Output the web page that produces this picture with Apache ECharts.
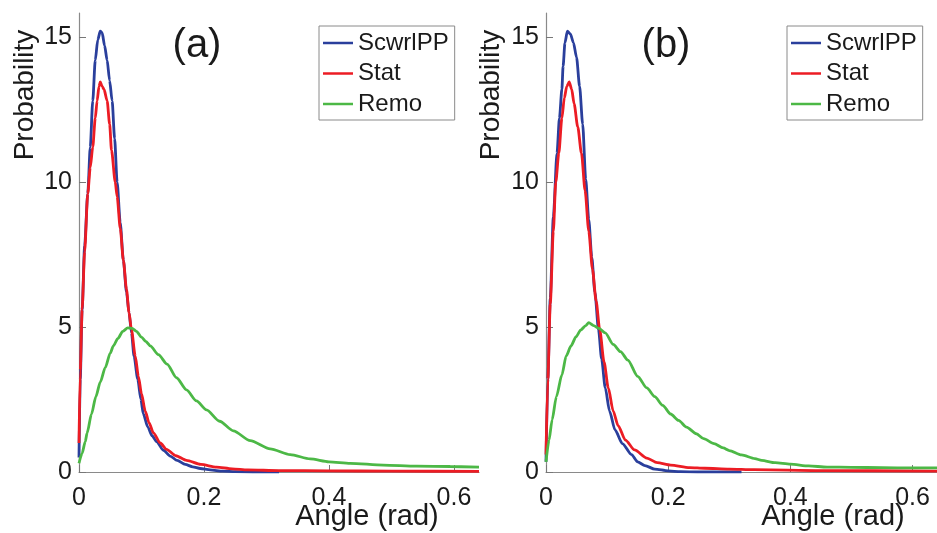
<!DOCTYPE html>
<html>
<head>
<meta charset="utf-8">
<script src="https://cdn.jsdelivr.net/npm/echarts@6/dist/echarts.min.js"></script>
<style>
  html, body { margin: 0; padding: 0; background: #fff; }
  #chart { width: 937px; height: 533px; }
</style>
</head>
<body>
<div id="chart"></div>
<script>
// Angle distributions: [angle (rad), probability density]
const seriesNames = ['ScwrlPP', 'Stat', 'Remo'];
const panelLabels = ['(a)', '(b)'];
const xTicks = [0, 0.2, 0.4, 0.6];
const yTicks = [0, 5, 10, 15];

// panel (a)
const scwrlA = [[0,0.5],[0.002,3.2],[0.005,5.6],[0.009,7.8],[0.014,9.6],[0.018,11.2],[0.022,12.8],[0.026,14.2],[0.030,14.9],[0.034,15.2],[0.037,15.15],[0.041,14.7],[0.045,14.2],[0.049,13.5],[0.053,12.8],[0.057,11.5],[0.061,10.0],[0.066,8.6],[0.071,7.3],[0.076,6.2],[0.080,5.5],[0.084,4.8],[0.088,4.0],[0.094,3.2],[0.099,2.5],[0.103,2.0],[0.110,1.55],[0.117,1.25],[0.124,1.05],[0.135,0.75],[0.146,0.55],[0.157,0.4],[0.170,0.26],[0.182,0.18],[0.194,0.12],[0.21,0.07],[0.23,0.03],[0.25,0.01],[0.28,0.0],[0.32,0.0]];
const statA = [[0,1.0],[0.002,3.5],[0.005,5.6],[0.009,7.6],[0.014,9.6],[0.018,10.5],[0.022,11.2],[0.026,12.2],[0.029,12.8],[0.032,13.3],[0.034,13.45],[0.037,13.3],[0.040,13.2],[0.045,12.8],[0.049,12.0],[0.052,11.1],[0.058,10.0],[0.061,9.5],[0.066,8.4],[0.071,7.3],[0.076,6.3],[0.080,5.5],[0.084,4.9],[0.090,4.0],[0.095,3.3],[0.100,2.7],[0.106,2.1],[0.112,1.7],[0.119,1.35],[0.13,1.0],[0.14,0.78],[0.155,0.56],[0.172,0.4],[0.195,0.26],[0.22,0.17],[0.245,0.11],[0.27,0.07],[0.32,0.05],[0.40,0.04],[0.50,0.03],[0.64,0.02]];
const remoA = [[0,0.3],[0.005,0.65],[0.01,1.05],[0.013,1.35],[0.02,2.0],[0.027,2.6],[0.034,3.1],[0.042,3.6],[0.05,4.1],[0.055,4.35],[0.062,4.6],[0.07,4.85],[0.078,4.97],[0.085,4.95],[0.092,4.85],[0.1,4.65],[0.107,4.5],[0.114,4.35],[0.127,4.05],[0.141,3.72],[0.156,3.25],[0.172,2.83],[0.188,2.45],[0.204,2.14],[0.225,1.75],[0.247,1.42],[0.274,1.08],[0.306,0.8],[0.338,0.6],[0.37,0.45],[0.4,0.35],[0.434,0.3],[0.487,0.24],[0.54,0.2],[0.594,0.19],[0.64,0.17]];

// panel (b)
const scwrlB = [[0,0.35],[0.003,3.2],[0.007,6.0],[0.012,8.8],[0.018,11.0],[0.022,12.2],[0.026,13.2],[0.028,14.0],[0.031,14.8],[0.035,15.2],[0.040,15.1],[0.045,14.8],[0.050,14.3],[0.055,13.3],[0.060,12.0],[0.065,10.1],[0.070,8.7],[0.075,7.4],[0.080,6.2],[0.086,4.9],[0.091,3.9],[0.097,2.9],[0.104,2.1],[0.113,1.45],[0.125,0.98],[0.14,0.6],[0.15,0.35],[0.162,0.22],[0.178,0.1],[0.2,0.04],[0.22,0.01],[0.25,0.0],[0.32,0.0]];
const statB = [[0,0.6],[0.003,3.2],[0.007,5.8],[0.012,8.3],[0.016,10.0],[0.021,11.0],[0.026,12.2],[0.030,12.9],[0.034,13.3],[0.038,13.45],[0.042,13.2],[0.046,12.7],[0.052,11.9],[0.058,11.0],[0.064,9.7],[0.070,8.3],[0.076,7.0],[0.082,5.9],[0.088,4.9],[0.095,3.8],[0.102,2.9],[0.110,2.1],[0.118,1.6],[0.130,1.1],[0.145,0.76],[0.165,0.48],[0.182,0.32],[0.204,0.24],[0.235,0.15],[0.26,0.13],[0.3,0.1],[0.34,0.08],[0.45,0.05],[0.64,0.03]];
const remoB = [[0,0.35],[0.005,1.1],[0.01,1.8],[0.017,2.6],[0.026,3.35],[0.033,4.0],[0.041,4.35],[0.049,4.66],[0.057,4.9],[0.065,5.05],[0.070,5.15],[0.078,5.05],[0.087,4.95],[0.097,4.8],[0.11,4.4],[0.122,4.15],[0.134,3.86],[0.15,3.3],[0.165,2.9],[0.178,2.6],[0.191,2.3],[0.204,2.0],[0.217,1.78],[0.23,1.55],[0.246,1.32],[0.258,1.15],[0.275,0.98],[0.29,0.83],[0.30,0.74],[0.32,0.59],[0.342,0.46],[0.353,0.4],[0.375,0.32],[0.4,0.27],[0.43,0.21],[0.46,0.17],[0.5,0.16],[0.55,0.15],[0.6,0.14],[0.64,0.14]];

const colors = ['#2a3f9c', '#ec1c24', '#4cb846'];
const FONT = "'Liberation Sans', Arial, sans-serif";
const TEXT = '#1a1a1a';

const panels = [
  { left: 79, data: [scwrlA, statA, remoA] },
  { left: 546, data: [scwrlB, statB, remoB] }
];

const grids = panels.map(p => ({ left: p.left, top: 13, width: 400, height: 459 }));

const xAxes = panels.map((p, i) => ({
  type: 'value', gridIndex: i, min: 0, max: 0.64,
  axisLine: { show: true, lineStyle: { color: '#8a8a8a', width: 1.2 } },
  axisTick: { show: true, inside: true, length: 7, customValues: xTicks, lineStyle: { color: '#777' } },
  splitLine: { show: false },
  axisLabel: {
    margin: 14, fontSize: 25, color: TEXT, fontFamily: FONT,
    customValues: xTicks,
    formatter: v => (v === 0 ? '0' : v.toFixed(1))
  }
}));

const yAxes = panels.map((p, i) => ({
  type: 'value', gridIndex: i, min: 0, max: 15.83,
  axisLine: { show: true, lineStyle: { color: '#8a8a8a', width: 1.2 } },
  axisTick: { show: true, inside: true, length: 7, customValues: yTicks, lineStyle: { color: '#777' } },
  splitLine: { show: false },
  axisLabel: {
    margin: 7, fontSize: 25, color: TEXT, fontFamily: FONT,
    customValues: yTicks
  }
}));

const series = [];
panels.forEach((p, i) => {
  p.data.forEach((d, k) => {
    series.push({
      type: 'line', name: seriesNames[k], xAxisIndex: i, yAxisIndex: i,
      data: d, showSymbol: false, smooth: 0.25, smoothMonotone: 'x',
      lineStyle: { color: colors[k], width: 2.8 },
      itemStyle: { color: colors[k] },
      animation: false, z: 2 + k
    });
  });
});

const legendLefts = [319, 787];
const legends = legendLefts.map(l => ({
  left: l, top: 26, orient: 'vertical',
  data: seriesNames, icon: 'rect', itemWidth: 30, itemHeight: 2.5,
  itemGap: 0.5, padding: [2, 6, 1, 4],
  borderColor: '#8a8a8a', borderWidth: 1, backgroundColor: '#fff',
  selectedMode: false,
  textStyle: { fontSize: 24, lineHeight: 30, color: TEXT, fontFamily: FONT, padding: [0, 0, 0, 0] }
}));

const textEl = (x, y, text, size, rotation) => ({
  type: 'text', x, y, rotation: rotation || 0,
  style: { text, fontSize: size, fontFamily: FONT, fill: TEXT, align: 'center', verticalAlign: 'middle' },
  z: 10
});

const graphics = [
  textEl(197, 46, panelLabels[0], 40),
  textEl(666, 46, panelLabels[1], 40),
  textEl(367, 517, 'Angle (rad)', 29),
  textEl(833, 517, 'Angle (rad)', 29),
  textEl(25, 95, 'Probability', 28, Math.PI / 2),
  textEl(491, 95, 'Probability', 28, Math.PI / 2)
];

const chart = echarts.init(document.getElementById('chart'), null, { renderer: 'canvas' });
chart.setOption({
  backgroundColor: '#fff',
  animation: false,
  grid: grids,
  xAxis: xAxes,
  yAxis: yAxes,
  legend: legends,
  series,
  graphic: graphics
});
</script>
</body>
</html>
